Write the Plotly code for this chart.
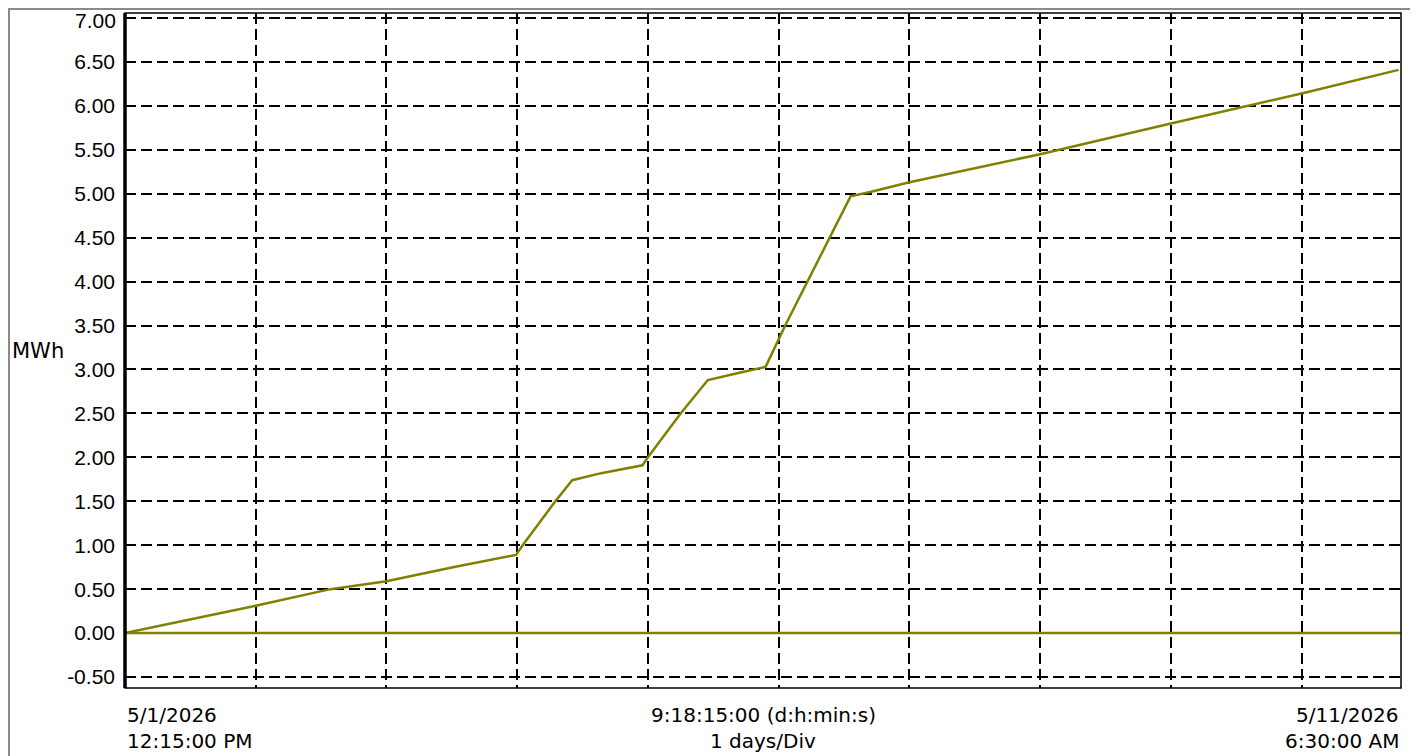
import pandas as pd
import plotly.graph_objects as go

# ---- data ----
start_time = "2026-05-01 12:15:00"
end_time = "2026-05-11 06:30:00"
elapsed_hours = [0, 24, 37.7, 48, 60.2, 71.8, 73.0, 79.0, 82.1, 87.4, 95.0, 96.0,
                 102.0, 107.0, 112.6, 117.6, 121.2, 125.3, 129.4, 133.2, 136.8,
                 144, 168, 192, 216, 233.8]
energy_mwh = [0.00, 0.31, 0.50, 0.59, 0.75, 0.89, 1.00, 1.50, 1.74, 1.82, 1.91, 2.00,
              2.50, 2.88, 2.96, 3.03, 3.50, 4.00, 4.50, 4.97, 5.02,
              5.13, 5.45, 5.80, 6.14, 6.41]
zero_hours = [0, 234.25]
zero_values = [0.0, 0.0]
y_ticks = [-0.5, 0.0, 0.5, 1.0, 1.5, 2.0, 2.5, 3.0, 3.5, 4.0, 4.5, 5.0, 5.5, 6.0, 6.5, 7.0]
y_tick_text = ["-0.50", "0.00", "0.50", "1.00", "1.50", "2.00", "2.50", "3.00", "3.50",
               "4.00", "4.50", "5.00", "5.50", "6.00", "6.50", ""]
top_tick_text = "7.00"
left_label = ["5/1/2026", "12:15:00 PM"]
center_label = ["9:18:15:00 (d:h:min:s)", "1 days/Div"]
right_label = ["5/11/2026", "6:30:00 AM"]
y_title = "MWh"

t0 = pd.Timestamp(start_time)
times = t0 + pd.to_timedelta(elapsed_hours, unit="h")
zero_times = t0 + pd.to_timedelta(zero_hours, unit="h")

FONT = "DejaVu Sans"
TICKFONT = "Liberation Sans"
OLIVE = "#808000"

# page has an 8px body margin, so the figure is sized/offset to compensate
FW, FH = 1410, 748
L, T, R, B = 117, 5, 17, 68
W, H = FW - L - R, FH - T - B


def px_x(fx):
    return (fx - L) / W


def px_y(fy):
    return (FH - B - fy) / H


fig = go.Figure()
fig.add_trace(go.Scatter(x=zero_times, y=zero_values, mode="lines",
                         line=dict(color=OLIVE, width=2.5), showlegend=False,
                         hoverinfo="skip"))
fig.add_trace(go.Scatter(x=times, y=energy_mwh, mode="lines",
                         line=dict(color=OLIVE, width=2.5), showlegend=False))

fig.update_layout(
    width=FW, height=FH,
    margin=dict(l=L, r=R, t=T, b=B, autoexpand=False),
    paper_bgcolor="white", plot_bgcolor="white",
    font=dict(family=FONT, size=20, color="black"),
    showlegend=False,
)
fig.update_xaxes(
    type="date", range=[start_time, end_time],
    tick0=start_time, dtick=86400000, automargin=False,
    showgrid=True, gridcolor="black", gridwidth=2, griddash="11px,5px",
    showticklabels=False, ticks="", zeroline=False, showline=False,
)
fig.update_yaxes(
    range=[-0.625, 7.057], tickvals=y_ticks, ticktext=y_tick_text, automargin=False,
    showgrid=True, gridcolor="black", gridwidth=2, griddash="11px,5px",
    ticks="", ticklabelstandoff=9, ticklabeloverflow="allow",
    zeroline=False, showline=False,
    tickfont=dict(family=TICKFONT, size=21, color="black"),
)

# top tick label placed as an annotation so it stays inside the page
fig.add_annotation(text=top_tick_text, xref="paper", yref="paper", x=px_x(L - 8),
                   y=px_y(0), xanchor="right", yanchor="top", showarrow=False,
                   borderpad=0, font=dict(family=TICKFONT, size=21, color="black"))

# plot frame
fig.add_shape(type="rect", xref="paper", yref="paper", x0=0, y0=0, x1=1, y1=1,
              line=dict(color="black", width=1.5), layer="above")
fig.add_shape(type="line", xref="paper", yref="paper", x0=0, y0=0, x1=0, y1=1,
              line=dict(color="black", width=3.5), layer="above")
# outer window border (left and top)
fig.add_shape(type="line", xref="paper", yref="paper", x0=px_x(1), x1=px_x(1),
              y0=px_y(FH), y1=px_y(0), line=dict(color="#8a8a8a", width=2))
fig.add_shape(type="line", xref="paper", yref="paper", x0=px_x(0), x1=px_x(FW),
              y0=px_y(1), y1=px_y(1), line=dict(color="#8a8a8a", width=2))

# y title
fig.add_annotation(text=y_title, xref="paper", yref="paper", x=px_x(2), y=0.5,
                   xanchor="left", yanchor="middle", showarrow=False,
                   font=dict(family=FONT, size=21, color="black"))

# bottom labels (page rows at y=715 and y=741 -> figure rows 707, 733)
rows = [px_y(707), px_y(733)]
for lab, x, anchor in [(left_label, 0.0, "left"), (center_label, 0.5, "center"),
                       (right_label, 1.0, "right")]:
    for txt, yy in zip(lab, rows):
        fig.add_annotation(text=txt, xref="paper", yref="paper", x=x, y=yy,
                           xanchor=anchor, yanchor="middle", showarrow=False,
                           font=dict(family=FONT, size=20, color="black"))

fig.write_html("out.html")
